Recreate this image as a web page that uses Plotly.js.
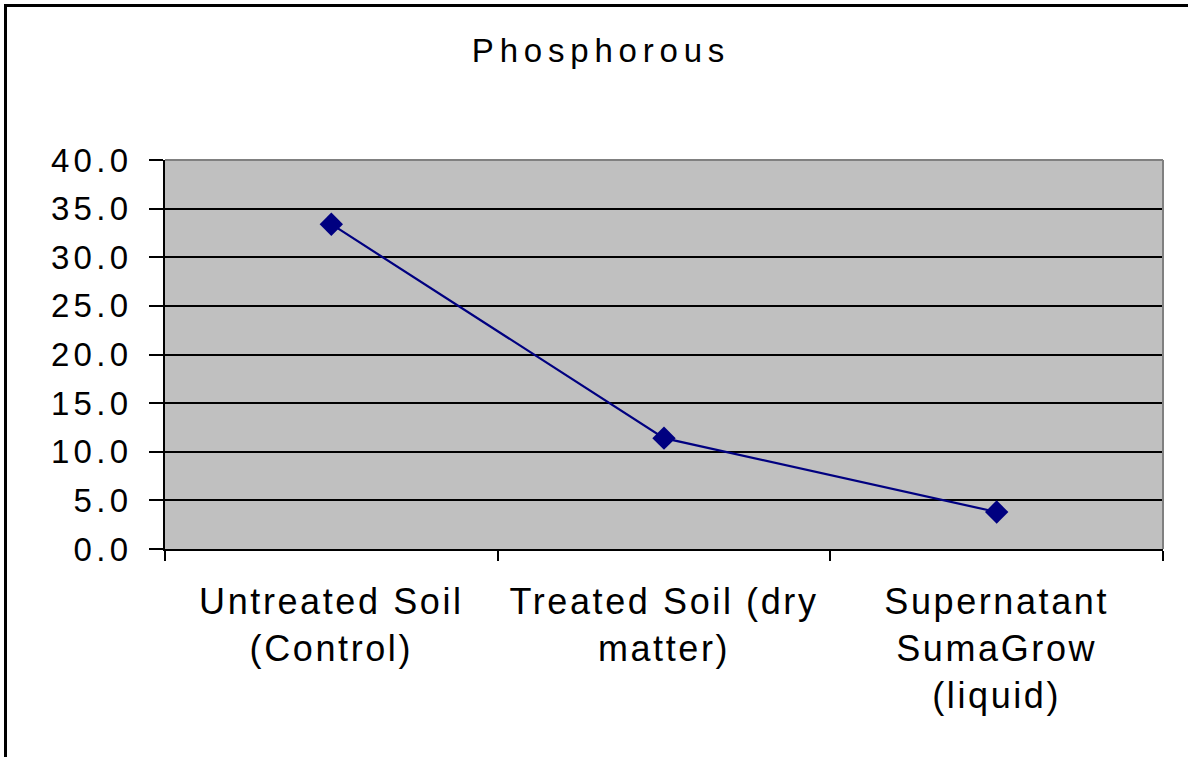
<!DOCTYPE html>
<html>
<head>
<meta charset="utf-8">
<script src="https://cdn.plot.ly/plotly-3.0.1.min.js"></script>
<style>
  html, body { margin: 0; padding: 0; background: #ffffff; }
  #chart { width: 1188px; height: 757px; }
  #chart .gtitle { letter-spacing: 5.8px; }
  #chart .xtick text { letter-spacing: 2.6px; }
  #chart .ytick text { letter-spacing: 4.3px; }
</style>
</head>
<body>
<div id="chart"></div>
<script>
const categories = ["Untreated Soil<br>(Control)", "Treated Soil (dry<br>matter)", "Supernatant<br>SumaGrow<br>(liquid)"];
const phosphorous = [33.4, 11.4, 3.8];
const yTickValues = [0, 5, 10, 15, 20, 25, 30, 35, 40];
const yTickLabels = ["0.0", "5.0", "10.0", "15.0", "20.0", "25.0", "30.0", "35.0", "40.0"];
const chartTitle = "Phosphorous";

const FONT = "Liberation Sans, Arial, sans-serif";

const trace = {
  type: "scatter",
  mode: "lines+markers",
  x: categories,
  y: phosphorous,
  line: { color: "#000080", width: 2.2 },
  marker: { symbol: "diamond", size: 18, color: "#000080" },
  cliponaxis: false,
  hoverinfo: "x+y"
};

const layout = {
  width: 1188,
  height: 757,
  margin: { l: 165, r: 25, t: 160, b: 208, pad: 0 },
  paper_bgcolor: "#ffffff",
  plot_bgcolor: "#C0C0C0",
  showlegend: false,
  font: { family: FONT, color: "#000000" },
  title: {
    text: chartTitle,
    font: { family: FONT, size: 33, color: "#000000" },
    x: 601 / 1188, xref: "container", xanchor: "center",
    y: 1 - 50 / 757, yref: "container", yanchor: "middle"
  },
  xaxis: {
    type: "category",
    range: [-0.5, 2.5],
    tickson: "boundaries",
    ticks: "outside",
    ticklen: 10,
    tickwidth: 2,
    tickcolor: "#000000",
    showline: true,
    linecolor: "#000000",
    linewidth: 2,
    showgrid: false,
    zeroline: false,
    tickfont: { family: FONT, size: 36, color: "#000000" },
    ticklabelstandoff: 20,
    fixedrange: true
  },
  yaxis: {
    range: [0, 40],
    tickvals: yTickValues,
    ticktext: yTickLabels,
    ticks: "outside",
    ticklen: 14,
    tickwidth: 2,
    tickcolor: "#000000",
    showline: true,
    linecolor: "#000000",
    linewidth: 2,
    showgrid: true,
    gridcolor: "#000000",
    gridwidth: 2,
    zeroline: false,
    tickfont: { family: FONT, size: 33, color: "#000000" },
    ticklabelstandoff: 10,
    fixedrange: true
  },
  shapes: [
    {
      type: "line", xref: "paper", yref: "paper",
      x0: 0, x1: 1, y0: 1, y1: 1,
      line: { color: "#808080", width: 2 }, layer: "above"
    },
    {
      type: "line", xref: "paper", yref: "paper",
      x0: 1, x1: 1, y0: 0, y1: 1,
      line: { color: "#808080", width: 2 }, layer: "above"
    },
    {
      type: "path", xref: "paper", yref: "paper",
      path: "M " + ((5.5 - 165) / 998) + " -1 L " + ((5.5 - 165) / 998) + " " + ((549 - 5.5) / 389) + " L 2 " + ((549 - 5.5) / 389),
      line: { color: "#000000", width: 3 }, layer: "above"
    }
  ]
};

Plotly.newPlot("chart", [trace], layout, { displayModeBar: false, staticPlot: false });
</script>
</body>
</html>
